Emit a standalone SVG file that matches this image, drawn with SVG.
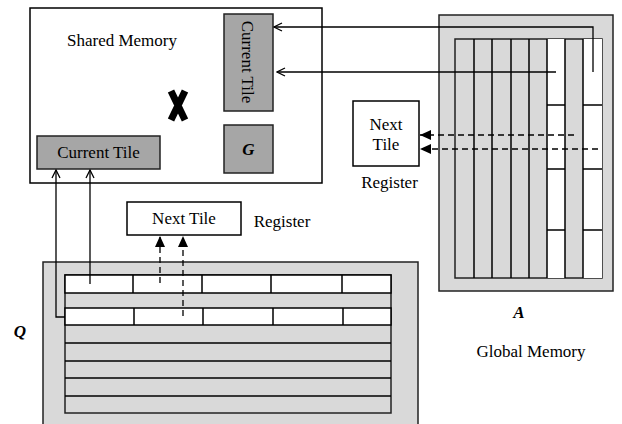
<svg xmlns="http://www.w3.org/2000/svg" width="622" height="424" viewBox="0 0 622 424">
<defs>
<style>
text{font-family:"Liberation Serif","Times New Roman",serif;font-size:17px;fill:#000}
.box{stroke:#000;stroke-width:1.5}
.dark{fill:#a6a6a6;stroke:#222;stroke-width:1.5}
.light{fill:#d9d9d9;stroke:#222;stroke-width:1.5}
.wh{fill:#fff;stroke:#000;stroke-width:1.5}
.ln{fill:none;stroke:#000;stroke-width:1.3}
.dash{fill:none;stroke:#000;stroke-width:1.3;stroke-dasharray:6,4}
</style>
<marker id="open" markerWidth="10" markerHeight="10" refX="9" refY="5" orient="auto" markerUnits="userSpaceOnUse">
<path d="M1,1 L9,5 L1,9" fill="none" stroke="#000" stroke-width="1.3"/>
</marker>
<marker id="solid" markerWidth="12" markerHeight="10" refX="11" refY="5" orient="auto" markerUnits="userSpaceOnUse">
<path d="M0,0 L11,5 L0,10 Z" fill="#000"/>
</marker>
</defs>

<g id="shared-memory">
<rect x="30" y="8" width="292" height="175" fill="#fff" class="box"/>
<text x="122" y="46" text-anchor="middle">Shared Memory</text>
</g>

<g id="current-tile-vertical">
<rect x="224" y="14" width="49" height="97" class="dark"/>
<text x="0" y="0" text-anchor="middle" transform="translate(242,62) rotate(90)">Current Tile</text>
</g>

<g id="g-tile">
<rect x="224" y="125" width="49" height="48" class="dark"/>
<text x="248.5" y="155" text-anchor="middle" font-weight="bold" font-style="italic">G</text>
</g>

<g id="current-tile-horizontal">
<rect x="37" y="136" width="123" height="33" class="dark"/>
<text x="98.5" y="158" text-anchor="middle">Current Tile</text>
</g>

<g id="x-mark">
<path d="M171,91 L185,120 M185,91 L171,120" stroke="#000" stroke-width="7" fill="none"/>
</g>

<g id="global-a">
<rect x="439" y="15" width="174" height="276" class="light"/>
<rect x="455" y="39" width="147" height="239" class="light"/>
<rect x="547" y="39" width="18" height="239" fill="#fff"/>
<rect x="583" y="39" width="19" height="239" fill="#fff"/>
<path d="M474,39 V278 M492,39 V278 M511,39 V278 M529,39 V278 M547,39 V278 M565,39 V278 M583,39 V278" stroke="#000" stroke-width="1.5" fill="none"/>
<path d="M547,105 H565 M547,169 H565 M547,230 H565 M583,105 H602 M583,169 H602 M583,230 H602" stroke="#000" stroke-width="1.5" fill="none"/>
<text x="519" y="318" text-anchor="middle" font-weight="bold" font-style="italic">A</text>
<text x="531" y="357" text-anchor="middle">Global Memory</text>
</g>

<g id="next-tile-right">
<rect x="353" y="101" width="66" height="65" class="wh"/>
<text x="386" y="130" text-anchor="middle">Next</text>
<text x="386" y="150" text-anchor="middle">Tile</text>
<text x="389.5" y="188" text-anchor="middle">Register</text>
</g>

<g id="next-tile-bottom">
<rect x="127" y="202" width="114" height="33" class="wh"/>
<text x="184" y="224" text-anchor="middle">Next Tile</text>
<text x="282" y="227" text-anchor="middle">Register</text>
</g>

<g id="global-q">
<rect x="43" y="262" width="375" height="170" class="light"/>
<rect x="65" y="275" width="326" height="138" class="light"/>
<rect x="65" y="275" width="326" height="18" fill="#fff" stroke="#000" stroke-width="1.5"/>
<rect x="65" y="308" width="326" height="17" fill="#fff" stroke="#000" stroke-width="1.5"/>
<path d="M133,275 V293 M202,275 V293 M271,275 V293 M342,275 V293 M134,308 V325 M203,308 V325 M273,308 V325 M343,308 V325" stroke="#000" stroke-width="1.5" fill="none"/>
<path d="M65,343 H391 M65,361 H391 M65,378 H391 M65,396 H391" stroke="#000" stroke-width="1.5" fill="none"/>
<text x="20" y="337" text-anchor="middle" font-weight="bold" font-style="italic">Q</text>
</g>

<g id="connectors">
<path class="ln" d="M593,72 V27 H274" marker-end="url(#open)"/>
<path class="ln" d="M556,72 H277" marker-end="url(#open)"/>
<path class="dash" d="M574,135 H420" marker-end="url(#solid)"/>
<path class="dash" d="M598,149 H420" marker-end="url(#solid)"/>
<path class="ln" d="M90,284 V170" marker-end="url(#open)"/>
<path class="ln" d="M65,317 H56 V170" marker-end="url(#open)"/>
<path class="dash" d="M160,283 V236" marker-end="url(#solid)"/>
<path class="dash" d="M183,316 V236" marker-end="url(#solid)"/>
</g>
</svg>
